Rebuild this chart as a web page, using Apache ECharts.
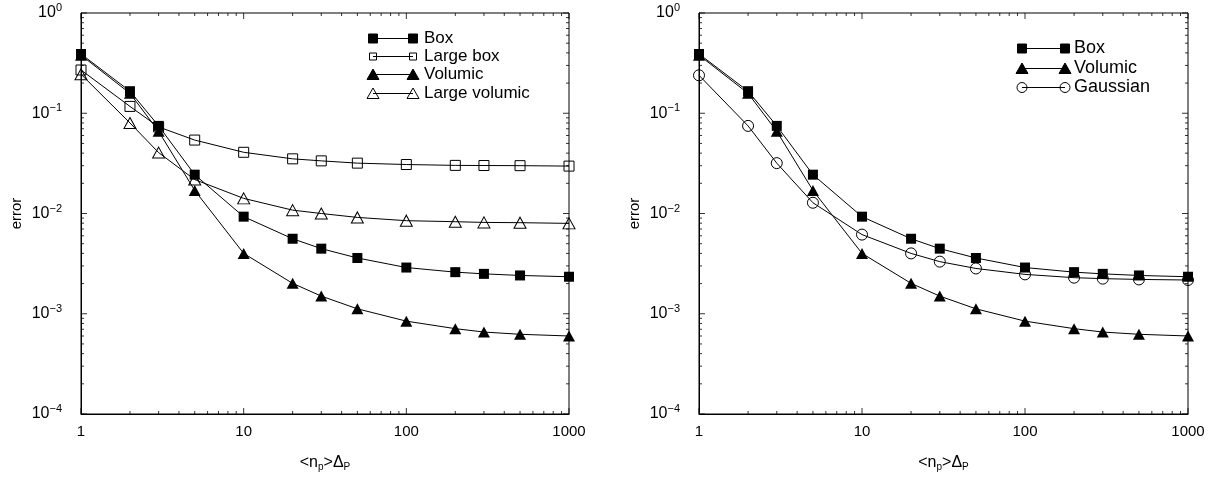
<!DOCTYPE html>
<html>
<head>
<meta charset="utf-8">
<script src="https://cdn.jsdelivr.net/npm/echarts@6/dist/echarts.min.js"></script>
<style>
html,body{margin:0;padding:0;background:#fff;}
#chart{width:1229px;height:477px;}
</style>
</head>
<body>
<div id="chart"></div>
<script>
// ---- data ----
var xs = [1, 2, 3, 5, 10, 20, 30, 50, 100, 200, 300, 500, 1000];
var boxErr = [0.39, 0.166, 0.0748, 0.0244, 0.0093, 0.0056, 0.00446, 0.0036, 0.00289, 0.0026, 0.0025, 0.00241, 0.00234];
var largeBoxErr = [0.27, 0.117, 0.073, 0.054, 0.0408, 0.0351, 0.0335, 0.0318, 0.0308, 0.0302, 0.0301, 0.0300, 0.0297];
var volumicErr = [0.38, 0.158, 0.066, 0.017, 0.0040, 0.00201, 0.00150, 0.00112, 0.000844, 0.00071, 0.000657, 0.000624, 0.0006];
var largeVolumicErr = [0.245, 0.08, 0.0405, 0.0218, 0.01415, 0.0108, 0.0100, 0.00914, 0.00848, 0.00828, 0.00815, 0.0081, 0.00797];
var gaussianErr = [0.239, 0.0748, 0.0318, 0.0128, 0.00616, 0.0040, 0.00331, 0.00283, 0.00247, 0.00229, 0.00224, 0.0022, 0.00217];
var xMajorTicks = [1, 10, 100, 1000];
var xMinorTicks = [2, 3, 4, 5, 6, 7, 8, 9, 20, 30, 40, 50, 60, 70, 80, 90, 200, 300, 400, 500, 600, 700, 800, 900];
var yMajorTicks = [1e-4, 1e-3, 1e-2, 1e-1, 1];
var yMinorTicks = [2e-4, 3e-4, 4e-4, 5e-4, 6e-4, 7e-4, 8e-4, 9e-4,
  2e-3, 3e-3, 4e-3, 5e-3, 6e-3, 7e-3, 8e-3, 9e-3,
  0.02, 0.03, 0.04, 0.05, 0.06, 0.07, 0.08, 0.09,
  0.2, 0.3, 0.4, 0.5, 0.6, 0.7, 0.8, 0.9];
var leftNames = ['Box', 'Large box', 'Volumic', 'Large volumic'];
var rightNames = ['Box', 'Volumic', 'Gaussian'];

var FONT = '"Liberation Sans", Arial, Helvetica, sans-serif';
var X_MIN = 1, X_MAX = 1000, Y_MIN = 1e-4, Y_MAX = 1;

function pairs(arr) { return xs.map(function (x, i) { return [x, arr[i]]; }); }

function yLabel(v) {
  var e = Math.round(Math.log10(v));
  var s = e < 0 ? '\u2212' + (-e) : String(e);
  return '{a|10}{b|' + s + '}';
}

function makeX(idx) {
  return {
    type: 'log', logBase: 10, gridIndex: idx, min: X_MIN, max: X_MAX, interval: 1,
    axisLine: { show: true, lineStyle: { color: '#000', width: 1 } },
    axisTick: { show: false },
    splitLine: { show: false },
    axisLabel: {
      color: '#000', fontSize: 15, fontFamily: FONT, margin: 10,
      formatter: function (v) { return String(Math.round(v)); }
    },
    name: '<n{s|p}>\u0394{s|P}',
    nameLocation: 'middle', nameGap: 40,
    nameTextStyle: {
      color: '#000', fontSize: 16, fontFamily: FONT,
      rich: { s: { fontSize: 10, fontFamily: FONT, color: '#000', padding: [8, 0, 0, 0] } }
    }
  };
}

function makeY(idx) {
  return {
    type: 'log', logBase: 10, gridIndex: idx, min: Y_MIN, max: Y_MAX, interval: 1,
    axisLine: { show: true, lineStyle: { color: '#000', width: 1 } },
    axisTick: { show: false },
    splitLine: { show: false },
    axisLabel: {
      color: '#000', fontSize: 16, fontFamily: FONT, margin: 19,
      formatter: yLabel,
      rich: {
        a: { fontSize: 16, fontFamily: FONT, color: '#000' },
        b: { fontSize: 11, fontFamily: FONT, color: '#000', padding: [0, 0, 10, 0] }
      }
    },
    name: 'error',
    nameLocation: 'middle', nameGap: 57,
    nameTextStyle: { color: '#000', fontSize: 15, fontFamily: FONT }
  };
}

var SYM = {
  'Box': { symbol: 'rect', size: 10, filled: true },
  'Large box': { symbol: 'rect', size: 10, filled: false },
  'Volumic': { symbol: 'triangle', size: [12, 11], filled: true },
  'Large volumic': { symbol: 'triangle', size: [12, 11], filled: false },
  'Gaussian': { symbol: 'circle', size: 11, filled: false }
};

function lineSeries(name, arr, idx, z) {
  var s = SYM[name];
  return {
    type: 'line', name: name, xAxisIndex: idx, yAxisIndex: idx,
    data: pairs(arr), symbol: s.symbol, symbolSize: s.size, showSymbol: true,
    z: z, animation: false, clip: false,
    lineStyle: { color: '#000', width: 1 },
    itemStyle: s.filled ? { color: '#000', borderColor: '#000', borderWidth: 0 }
                        : { color: 'rgba(0,0,0,0)', borderColor: '#000', borderWidth: 1 },
    emphasis: { disabled: true }
  };
}

// axis ticks drawn as thin rect symbols placed through the axes' scales
function tickSeries(gi, points, size, offset) {
  return {
    type: 'scatter', xAxisIndex: gi, yAxisIndex: gi,
    data: points, symbol: 'rect', symbolSize: size, symbolOffset: offset,
    itemStyle: { color: '#000', borderWidth: 0 },
    silent: true, animation: false, clip: false, z: 6,
    emphasis: { disabled: true }
  };
}

function ticksFor(gi) {
  var out = [];
  var xMaj = xMajorTicks.map(function (v) { return [v, Y_MIN]; });
  var xMin = xMinorTicks.map(function (v) { return [v, Y_MIN]; });
  var xMajT = xMajorTicks.map(function (v) { return [v, Y_MAX]; });
  var xMinT = xMinorTicks.map(function (v) { return [v, Y_MAX]; });
  var yMaj = yMajorTicks.map(function (v) { return [X_MIN, v]; });
  var yMin = yMinorTicks.map(function (v) { return [X_MIN, v]; });
  var yMajR = yMajorTicks.map(function (v) { return [X_MAX, v]; });
  var yMinR = yMinorTicks.map(function (v) { return [X_MAX, v]; });
  out.push(tickSeries(gi, xMaj, [1, 6], [0, -3]));
  out.push(tickSeries(gi, xMin, [1, 3], [0, -1.5]));
  out.push(tickSeries(gi, xMajT, [1, 6], [0, 3]));
  out.push(tickSeries(gi, xMinT, [1, 3], [0, 1.5]));
  out.push(tickSeries(gi, yMaj, [6, 1], [3, 0]));
  out.push(tickSeries(gi, yMin, [3, 1], [1.5, 0]));
  out.push(tickSeries(gi, yMajR, [6, 1], [-3, 0]));
  out.push(tickSeries(gi, yMinR, [3, 1], [-1.5, 0]));
  return out;
}

function legendMarker(name, cx, cy) {
  var s = SYM[name];
  var fill = s.filled ? '#000' : 'rgba(0,0,0,0)';
  var st = { fill: fill, stroke: '#000', lineWidth: 1 };
  if (s.symbol === 'rect') {
    var h = s.filled ? 9 : 7;
    return { type: 'rect', shape: { x: cx - h / 2, y: cy - h / 2, width: h, height: h }, style: st, z: 10 };
  } else if (s.symbol === 'triangle') {
    return { type: 'polygon', shape: { points: [[cx, cy - 5.5], [cx + 6, cy + 5], [cx - 6, cy + 5]] }, style: st, z: 10 };
  } else {
    return { type: 'circle', shape: { cx: cx, cy: cy, r: 5 }, style: st, z: 10 };
  }
}

function legendGraphic(names, x1, x2, tx, ys, fs) {
  var g = [];
  names.forEach(function (n, i) {
    var y = ys[i] + 0.5;
    g.push({ type: 'line', shape: { x1: x1, y1: y, x2: x2, y2: y }, style: { stroke: '#000', lineWidth: 1 }, z: 9 });
    g.push(legendMarker(n, x1, y));
    g.push(legendMarker(n, x2, y));
    g.push({ type: 'text', x: tx, y: y, style: { text: n, fill: '#000', font: fs + 'px ' + FONT, verticalAlign: 'middle' }, z: 10 });
  });
  return g;
}

var chart = echarts.init(document.getElementById('chart'), null, { renderer: 'canvas' });

var series = [
  lineSeries('Large box', largeBoxErr, 0, 2),
  lineSeries('Large volumic', largeVolumicErr, 0, 3),
  lineSeries('Volumic', volumicErr, 0, 4),
  lineSeries('Box', boxErr, 0, 5),
  lineSeries('Gaussian', gaussianErr, 1, 3),
  lineSeries('Volumic', volumicErr, 1, 4),
  lineSeries('Box', boxErr, 1, 5)
].concat(ticksFor(0)).concat(ticksFor(1));

chart.setOption({
  backgroundColor: '#fff',
  animation: false,
  grid: [
    { left: 81, right: 660, top: 13, bottom: 58, show: true, borderColor: '#000', borderWidth: 1, backgroundColor: 'rgba(0,0,0,0)' },
    { left: 699, right: 41, top: 13, bottom: 58, show: true, borderColor: '#000', borderWidth: 1, backgroundColor: 'rgba(0,0,0,0)' }
  ],
  xAxis: [makeX(0), makeX(1)],
  yAxis: [makeY(0), makeY(1)],
  series: series,
  graphic: legendGraphic(leftNames, 373, 413, 424, [38, 56, 74, 93], 17)
    .concat(legendGraphic(rightNames, 1022, 1065, 1074, [48, 68, 87], 18))
});
</script>
</body>
</html>
